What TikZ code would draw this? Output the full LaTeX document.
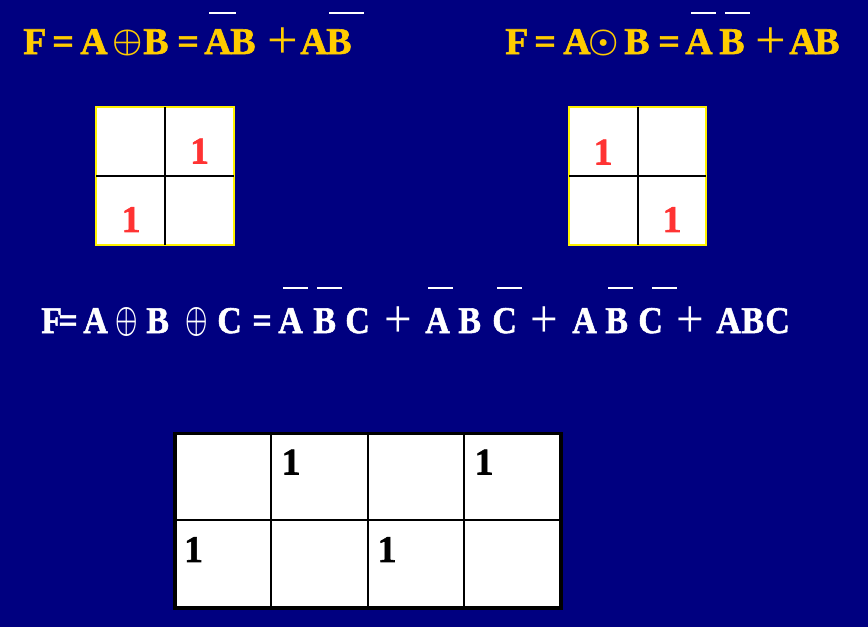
\documentclass[tikz,border=0pt]{standalone}
\usepackage{fontspec}
\setmainfont{Liberation Serif}
\newfontfamily\heavy{Liberation Serif}[BoldFeatures={FakeBold=1.5}]
\definecolor{navy}{HTML}{000080}
\definecolor{gold}{HTML}{FFCC00}
\definecolor{oner}{HTML}{FF3333}
\newcommand{\xo}{\raisebox{1.2pt}{\scalebox{1.12}{\fontsize{17}{17}\selectfont\boldmath$\oplus$}}}
\newcommand{\xn}{\raisebox{1.2pt}{\scalebox{1.12}{\fontsize{17}{17}\selectfont\boldmath$\odot$}}}
\newcommand{\xob}{\raisebox{1pt}{\scalebox{0.92}[1.25]{\fontsize{17}{17}\selectfont\boldmath$\oplus$}}}
\newcommand{\pl}{\raisebox{-2.3pt}{\fontsize{31}{31}\selectfont\mdseries +}}
\tikzset{
  glyph/.style={anchor=base west, inner sep=0pt, font=\fontsize{21.5}{24}\selectfont\heavy\bfseries},
  topeq/.style={glyph, text=gold},
  boteq/.style={glyph, text=white, xscale=0.9, transform shape},
  bar/.style={white, line width=0.6pt},
  smallk/.style={fill=white, draw=yellow, line width=0.6pt},
  bigk/.style={fill=white, draw=black, line width=2pt},
  kline/.style={black, line width=0.7pt},
  one/.style={inner sep=0pt, font=\fontsize{21.5}{24}\selectfont\heavy\bfseries},
}
\begin{document}
\begin{tikzpicture}[x=0.02cm, y=-0.02cm]
    \fill[navy] (0,0) rectangle (868,627);

    % F = A xor B
    \foreach \x/\t [count=\i] in {23/F, 52/=, 80/A, 112/\xo, 143/B, 177/=, 204/A, 230/B, 267/\pl, 300/A, 326/B}
        \node[topeq] (xa\i) at (\x,54) {\t};
    \draw[bar] (209,13) -- (236,13);
    \draw[bar] (329,13) -- (364,13);

    % F = A xnor B
    \foreach \x/\t [count=\i] in {505/F, 534/=, 563/A, 588/\xn, 624/B, 658/=, 685/A, 719/B, 755/\pl, 789/A, 814/B}
        \node[topeq] (xn\i) at (\x,54) {\t};
    \draw[bar] (691,13) -- (716,13);
    \draw[bar] (725,13) -- (750,13);

    % small maps
    \draw[smallk] (96,107) rectangle (234,245);
    \draw[kline] (165,107) -- (165,245);
    \draw[kline] (96,176) -- (234,176);
    \node[one, text=oner] (ka) at (199.5,151) {1};
    \node[one, text=oner] (kb) at (131,219.5) {1};

    \draw[smallk] (569,107) rectangle (706,245);
    \draw[kline] (638,107) -- (638,245);
    \draw[kline] (569,176) -- (706,176);
    \node[one, text=oner] (kc) at (603,152) {1};
    \node[one, text=oner] (kd) at (672,219.5) {1};

    % F = A xor B xor C
    \foreach \x/\t [count=\i] in {41/F, 58/=, 83/A, 115/\xob, 146/B, 185/\xob, 217/C, 252/=, 278/A, 313/B, 345/C, 384/\pl, 425/A, 458/B, 492/C, 530/\pl, 572/A, 605/B, 638/C, 676/\pl, 716/A, 741/B, 765/C}
        \node[boteq] (f\i) at (\x,333) {\t};
    \foreach \a/\b in {283/308, 317/342, 428/453, 497/522, 608/633, 652/677}
        \draw[bar] (\a,288) -- (\b,288);

    % big map
    \draw[bigk] (175,433.5) rectangle (561,608);
    \foreach \x in {271,368,464}
        \draw[kline] (\x,433.5) -- (\x,608);
    \draw[kline] (175,520) -- (561,520);
    \node[one] (m1) at (291,462) {1};
    \node[one] (m2) at (484,462) {1};
    \node[one] (m3) at (193.5,549.5) {1};
    \node[one] (m4) at (387,549.5) {1};
\end{tikzpicture}
\end{document}
